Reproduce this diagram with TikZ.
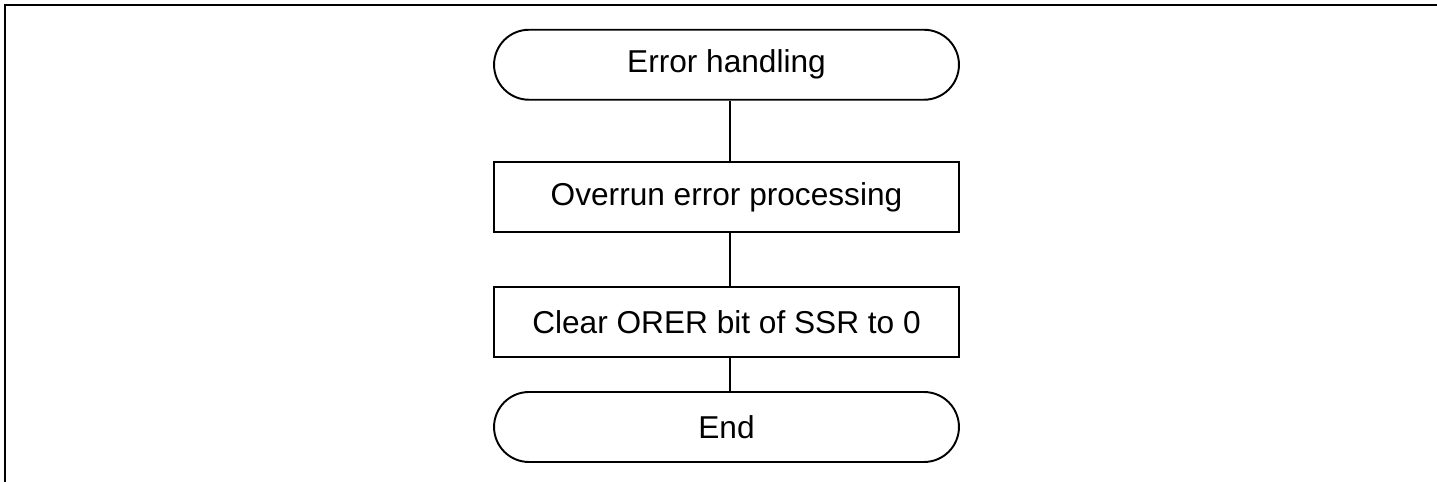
\documentclass[tikz,border=0pt]{standalone}
\usepackage{fontspec}
\setmainfont{Liberation Sans}
\usepackage{tikz}
\tikzset{
    terminal/.style={draw, line width=1.1pt, rounded corners=0.7cm, minimum width=9.3cm, minimum height=1.4cm, font=\fontsize{18}{22}\selectfont},
    process/.style={draw, line width=1.1pt, minimum width=9.3cm, minimum height=1.4cm, font=\fontsize{18}{22}\selectfont},
    flowline/.style={line width=1.1pt}
}

\begin{document}
\begin{tikzpicture}[x=0.02cm, y=-0.02cm]
        \useasboundingbox (0,0) rectangle (1437,482);
        % frame
        \draw[line width=1.1pt] (5,482) -- (5,5) -- (1437,5);

        % flow
        \node[terminal] (start) at (726.5,64.75) {Error handling};
        \node[process] (overrun) at (726.5,197) {Overrun error processing};
        \node[process] (clear) at (726.5,322) {Clear ORER bit of SSR to 0};
        \node[terminal] (stop) at (726.5,427) {End};

        \draw[flowline] ([xshift=0.07cm]start.south) -- ([xshift=0.07cm]overrun.north);
        \draw[flowline] ([xshift=0.07cm]overrun.south) -- ([xshift=0.07cm]clear.north);
        \draw[flowline] ([xshift=0.07cm]clear.south) -- ([xshift=0.07cm]stop.north);
    \end{tikzpicture}
\end{document}
